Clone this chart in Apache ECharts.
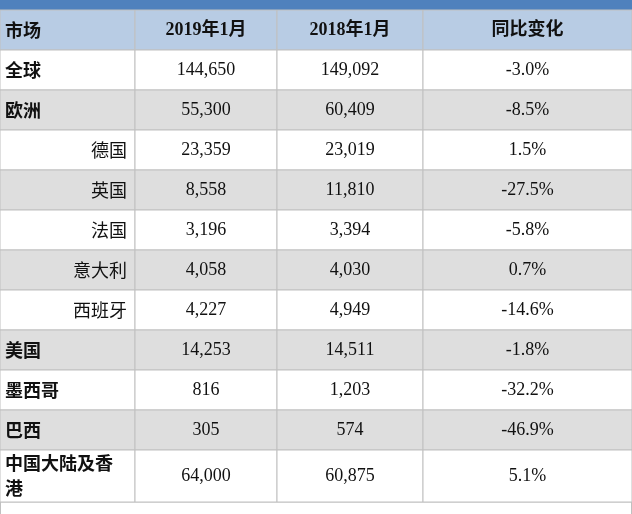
<!DOCTYPE html>
<html><head><meta charset="utf-8">
<script src="https://cdn.jsdelivr.net/npm/echarts@6/dist/echarts.min.js"></script>
<style>html,body{margin:0;padding:0;background:#fff}#c{width:632px;height:514px}</style>
</head><body><div id="c"></div>
<script>
// table content
var headers = ['市场', '2019年1月', '2018年1月', '同比变化'];
var markets = ['全球', '欧洲', '德国', '英国', '法国', '意大利', '西班牙', '美国', '墨西哥', '巴西', '中国大陆及香\n港'];
var isSub = [false, false, true, true, true, true, true, false, false, false, false];
var jan2019 = ['144,650', '55,300', '23,359', '8,558', '3,196', '4,058', '4,227', '14,253', '816', '305', '64,000'];
var jan2018 = ['149,092', '60,409', '23,019', '11,810', '3,394', '4,030', '4,949', '14,511', '1,203', '574', '60,875'];
var change = ['-3.0%', '-8.5%', '1.5%', '-27.5%', '-5.8%', '0.7%', '-14.6%', '-1.8%', '-32.2%', '-46.9%', '5.1%'];

// layout (pixel grid)
var colEdges = [0, 135, 277, 423, 632];
var rowEdges = [10, 50, 90, 130, 170, 210, 250, 290, 330, 370, 410, 450, 502];

var cells = [];
headers.forEach(function (h, c) { cells.push([c, 0, h]); });
markets.forEach(function (m, r) {
    cells.push([0, r + 1, m]);
    cells.push([1, r + 1, jan2019[r]]);
    cells.push([2, r + 1, jan2018[r]]);
    cells.push([3, r + 1, change[r]]);
});

var myChart = echarts.init(document.getElementById('c'));
myChart.setOption({
    animation: false,
    grid: { left: 0, right: 0, top: 0, bottom: 0 },
    xAxis: { type: 'value', min: 0, max: 632, show: false },
    yAxis: { type: 'value', min: 0, max: 514, inverse: true, show: false },
    graphic: [
        { type: 'rect', shape: { x: 0, y: 0, width: 632, height: 10 }, style: { fill: '#4f81bd' } },
        { type: 'rect', shape: { x: 0.5, y: 502, width: 631, height: 14 }, style: { fill: 'none', stroke: '#c0c0c0' } }
    ],
    series: [{
        type: 'custom',
        data: cells,
        renderItem: function (params, api) {
            var c = api.value(0), r = api.value(1);
            var text = cells[params.dataIndex][2];
            var p0 = api.coord([colEdges[c], rowEdges[r]]);
            var p1 = api.coord([colEdges[c + 1], rowEdges[r + 1]]);
            var w = p1[0] - p0[0], h = p1[1] - p0[1];
            var fill = r === 0 ? '#b8cce4' : ((r % 2 === 0) ? '#dedede' : '#ffffff');
            var sub = r > 0 && isSub[r - 1];
            var tx, align, font;
            if (c === 0) {
                if (sub) { tx = p0[0] + w - 8; align = 'right'; }
                else { tx = p0[0] + 5; align = 'left'; }
                font = (sub ? '' : 'bold ') + '18px "Noto Sans CJK SC"';
            } else {
                tx = p0[0] + w / 2; align = 'center';
                font = (r === 0 ? 'bold ' : '') + '18px "Liberation Serif", "Noto Sans CJK SC"';
            }
            return {
                type: 'group',
                children: [{
                    type: 'rect',
                    shape: { x: p0[0], y: p0[1], width: w, height: h },
                    style: { fill: fill, stroke: '#c0c0c0', lineWidth: 1 }
                }, {
                    type: 'text',
                    style: {
                        x: tx, y: p0[1] + h / 2, text: text,
                        align: align, verticalAlign: 'middle',
                        fill: '#111', font: font, lineHeight: 25
                    }
                }]
            };
        }
    }]
});
</script></body></html>
